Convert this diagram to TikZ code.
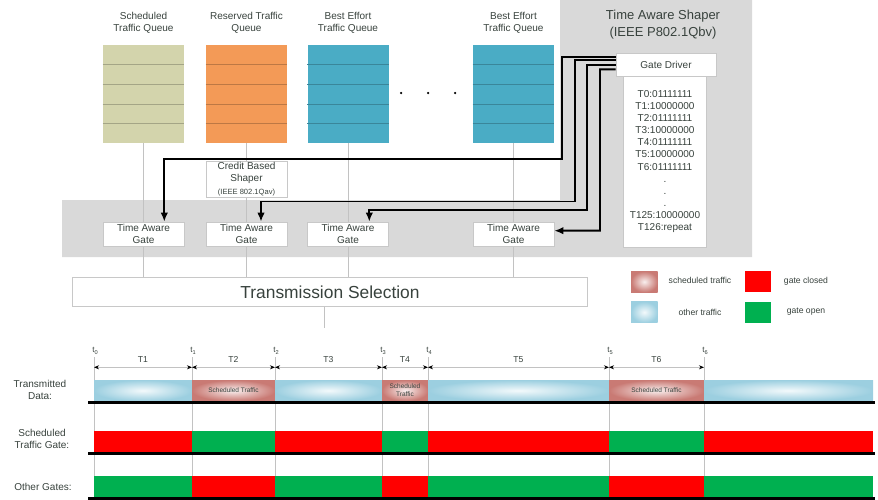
\documentclass[tikz,border=0pt]{standalone}
\usepackage{fontspec}
\setmainfont{Liberation Sans}
\usetikzlibrary{positioning,arrows.meta,calc}
\definecolor{TextGray}{HTML}{38423D}
\definecolor{ShaperGray}{HTML}{D9D9D9}
\definecolor{LineGray}{HTML}{C2C2C2}
\definecolor{BoxEdge}{HTML}{C8C8C8}
\definecolor{QSched}{HTML}{D3D4AC}
\definecolor{QRes}{HTML}{F39A57}
\definecolor{QBest}{HTML}{4AACC5}
\definecolor{OtherBlue}{HTML}{9CCFE0}
\definecolor{SchedRed}{HTML}{C97A74}
\definecolor{GateRed}{HTML}{FF0000}
\definecolor{GateGreen}{HTML}{00B050}

\begin{document}
\begin{tikzpicture}[x=0.2mm, y=-0.2mm,
  lbl/.style     = {text=TextGray, align=center, inner sep=0pt,
                    font=\fontsize{5.7}{7}\selectfont},
  queue/.style   = {minimum width=16.2mm, minimum height=19.6mm, inner sep=0pt},
  gatebox/.style = {draw=BoxEdge, fill=white, minimum width=16.2mm,
                    minimum height=4.8mm, inner sep=0pt, text=TextGray,
                    align=center, font=\fontsize{5.7}{7}\selectfont},
  ctrl/.style    = {arrows={-Latex[length=1.8mm,width=1.5mm]}, line width=1.1pt},
  vline/.style   = {LineGray, line width=0.5pt},
  dimline/.style = {arrows={Stealth[length=1mm,width=0.8mm,color=black]-Stealth[length=1mm,width=0.8mm,color=black]},
                    LineGray, line width=0.5pt},
  baseln/.style  = {line width=1.2pt, black},
  swatch/.style  = {minimum width=5.3mm, minimum height=4.2mm, inner sep=0pt}
]
  \useasboundingbox (0,0) rectangle (878,500);

  % shaper area
  \fill[ShaperGray] (560,0) -- (752,0) -- (752,257) -- (62,257) -- (62,200)
    -- (560,200) -- cycle;
  \node[lbl, font=\fontsize{7.4}{9.5}\selectfont] (tastitle) at (663,24.5)
    {Time Aware Shaper\\(IEEE P802.1Qbv)};

  % queues
  \foreach \i/\x/\c/\t in {1/143.5/QSched/{Scheduled\\Traffic Queue},
                           2/246.5/QRes/{Reserved Traffic\\Queue},
                           3/348/QBest/{Best Effort\\Traffic Queue},
                           4/513.5/QBest/{Best Effort\\Traffic Queue}}{
    \node[queue, fill=\c] (q\i) at (\x,94) {};
    \foreach \k in {1,2,3,4}
      \draw[\c!78!black, line width=0.4pt]
        ($(q\i.north west)!\k/5!(q\i.south west)$) --
        ($(q\i.north east)!\k/5!(q\i.south east)$);
    \node[lbl] (ql\i) at (\x,23) {\t};
  }
  \foreach \x in {401,428,455}
    \fill[black] (\x,93) circle [radius=0.25mm];

  \node[gatebox, minimum width=103mm, minimum height=5.8mm,
        font=\fontsize{9.9}{12}\selectfont] (ts) at (330,292)
    {Transmission Selection};

  \foreach \i in {1,2,3,4}
    \draw[vline] (q\i.south) -- (q\i.south |- ts.north);
  \coordinate (tsout) at (324,328);
  \draw[vline] (ts.south -| tsout) -- (tsout);

  \node[gatebox, minimum height=7.2mm] (cbs) at (246.5,179)
    {Credit Based\\Shaper\\{\fontsize{4.3}{5.5}\selectfont (IEEE 802.1Qav)}};

  \foreach \i/\x in {1/143.5,2/246.5,3/348,4/513.5}
    \node[gatebox] (tag\i) at (\x,234) {Time Aware\\Gate};

  % gate driver and gate control list
  \node[gatebox, minimum width=20mm, minimum height=4.5mm] (gd) at (666,64.7)
    {Gate Driver};
  \node[gatebox, minimum width=16.5mm, minimum height=34.2mm,
        font=\fontsize{5.7}{6.9}\selectfont] (gcl) at (665,161.5)
    {T0:01111111\\T1:10000000\\T2:01111111\\T3:10000000\\T4:01111111\\
     T5:10000000\\T6:01111111\\.\\.\\.\\T125:10000000\\T126:repeat};

  \draw[ctrl] ([yshift=1.6mm]gd.west) -| (562,159) -| ([xshift=4.16mm]tag1.north);
  \draw[ctrl] ([yshift=0.94mm]gd.west) -| (575,201.5) -| ([xshift=2.9mm]tag2.north);
  \draw[ctrl] (gd.west) -| (587,210) -| ([xshift=4.26mm]tag3.north);
  \draw[ctrl] ([yshift=-0.92mm]gd.west) -| (600,230.7) -- ([yshift=0.66mm]tag4.east);

  % legend
  \node[swatch, inner color=SchedRed!12, outer color=SchedRed] (lgsched) at (644.3,281.7) {};
  \node[swatch, fill=GateRed] (lgclosed) at (758,281.7) {};
  \node[swatch, inner color=OtherBlue!12, outer color=OtherBlue] (lgother) at (644.3,312.2) {};
  \node[swatch, fill=GateGreen] (lgopen) at (758,312.2) {};
  \node[lbl, font=\fontsize{4.9}{6}\selectfont] (lgschedtxt) at (700,280) {scheduled traffic};
  \node[lbl, font=\fontsize{4.9}{6}\selectfont] (lgclosedtxt) at (806,281) {gate closed};
  \node[lbl, font=\fontsize{4.9}{6}\selectfont] (lgothertxt) at (700,312.7) {other traffic};
  \node[lbl, font=\fontsize{4.9}{6}\selectfont] (lgopentxt) at (806,312) {gate open};

  % timeline
  \node[lbl] (rowtd) at (40,390) {Transmitted\\Data:};
  \node[lbl] (rowstg) at (42,439) {Scheduled\\Traffic Gate:};
  \node[lbl] (rowog) at (43,487) {Other Gates:};

  \foreach \x [count=\i from 0] in {94,192,275,382,428,609,704}{
    \draw[vline, line width=0.3pt] (\x,357) -- (\x,500);
    \coordinate (d\i) at (\x,367.3);
    \node[lbl, font=\fontsize{4.6}{5}\selectfont] (t\i) at (\x+1.5,351) {t\textsubscript{\i}};
  }
  \foreach \a/\b/\n in {0/1/1,1/2/2,2/3/3,3/4/4,4/5/5,5/6/6}
    \draw[dimline] (d\a) -- (d\b)
      node[lbl, midway, yshift=1.6mm, font=\fontsize{4.9}{6}\selectfont] (T\n) {T\n};

  \foreach \a/\b/\td/\sg/\og in {94/192/OtherBlue/GateRed/GateGreen,
                                 192/275/SchedRed/GateGreen/GateRed,
                                 275/382/OtherBlue/GateRed/GateGreen,
                                 382/428/SchedRed/GateGreen/GateRed,
                                 428/609/OtherBlue/GateRed/GateGreen,
                                 609/704/SchedRed/GateGreen/GateRed,
                                 704/873/OtherBlue/GateRed/GateGreen}{
    \shade[inner color=\td!12, outer color=\td] (\a,380) rectangle (\b,401);
    \fill[\sg] (\a,431) rectangle (\b,452);
    \fill[\og] (\a,476) rectangle (\b,497);
  }
  \node[lbl, font=\fontsize{3.7}{4.4}\selectfont] (stx1) at (233.5,390.5) {Scheduled Traffic};
  \node[lbl, font=\fontsize{3.7}{4.4}\selectfont] (stx2) at (405,390.5) {Scheduled\\Traffic};
  \node[lbl, font=\fontsize{3.7}{4.4}\selectfont] (stx3) at (656.5,390.5) {Scheduled Traffic};

  \foreach \y in {402.5,453.5,498.5}
    \draw[baseln] (88,\y) -- (875,\y);
\end{tikzpicture}
\end{document}
